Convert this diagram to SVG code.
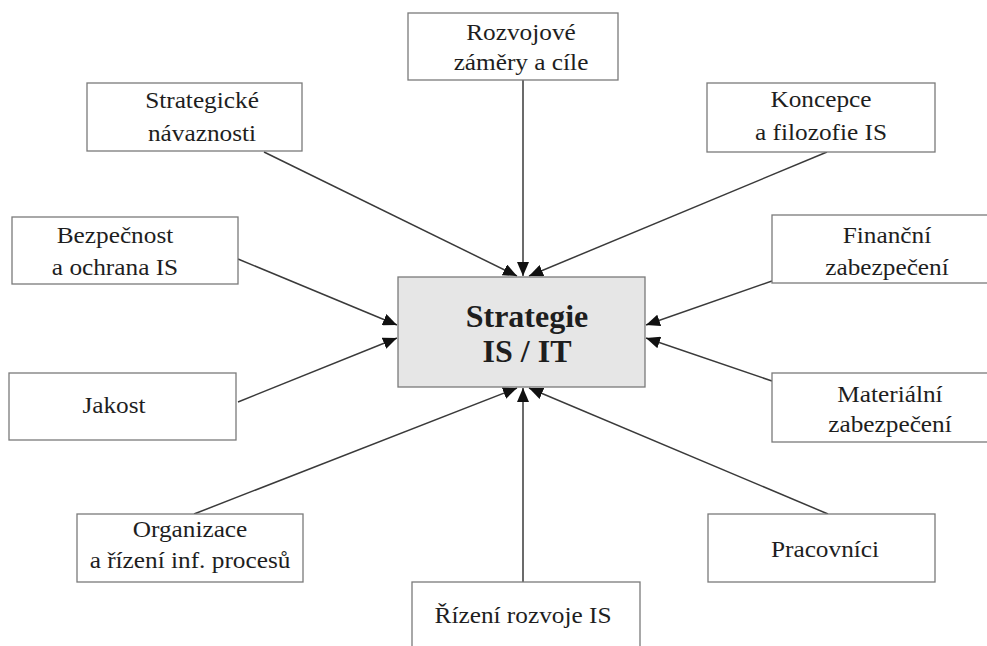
<svg xmlns="http://www.w3.org/2000/svg" width="987" height="646" viewBox="0 0 987 646">
<style>
.box{fill:#fff;stroke:#7a7a7a;stroke-width:1.3}
.center{fill:#e6e6e6;stroke:#7a7a7a;stroke-width:1.3}
.t{font-family:"Liberation Serif","Times New Roman",serif;font-size:23px;fill:#1e1e1e;text-anchor:middle}
.tb{font-family:"Liberation Serif","Times New Roman",serif;font-size:32px;font-weight:bold;fill:#1e1e1e;text-anchor:middle}
.c{stroke:#3a3a3a;stroke-width:1.5;fill:none;marker-end:url(#ah)}
</style>
<defs>
<marker id="ah" markerUnits="userSpaceOnUse" markerWidth="16" markerHeight="12" refX="14" refY="6" orient="auto">
<path d="M0,0 L14,6 L0,12 Z" fill="#111"/>
</marker>
</defs>
<rect width="987" height="646" fill="#fff"/>
<g id="connectors">
<line class="c" x1="523" y1="80" x2="523" y2="276"/>
<line class="c" x1="264" y1="152" x2="517" y2="276"/>
<line class="c" x1="827" y1="152" x2="529" y2="276"/>
<line class="c" x1="238" y1="259" x2="397" y2="325"/>
<line class="c" x1="238" y1="402" x2="397" y2="338"/>
<line class="c" x1="772" y1="281" x2="646" y2="325"/>
<line class="c" x1="772" y1="381" x2="646" y2="338"/>
<line class="c" x1="194" y1="514" x2="517" y2="388"/>
<line class="c" x1="523" y1="582" x2="523" y2="388"/>
<line class="c" x1="828" y1="514" x2="529" y2="388"/>
</g>
<g id="strategie">
<rect class="center" x="398" y="277" width="247" height="110"/>
<text class="tb" x="527" y="327">Strategie</text>
<text class="tb" x="527" y="362">IS / IT</text>
</g>
<g id="rozvojove">
<rect class="box" x="408" y="13" width="210" height="67"/>
<text class="t" transform="translate(521,40) scale(1.1,1)"><tspan x="0" y="0">Rozvojové</tspan><tspan x="0" y="30">záměry a cíle</tspan></text>
</g>
<g id="strategicke">
<rect class="box" x="87" y="83" width="215" height="68"/>
<text class="t" transform="translate(202,108) scale(1.1,1)"><tspan x="0" y="0">Strategické</tspan><tspan x="0" y="33">návaznosti</tspan></text>
</g>
<g id="koncepce">
<rect class="box" x="707" y="83" width="228" height="69"/>
<text class="t" transform="translate(821,107) scale(1.1,1)"><tspan x="0" y="0">Koncepce</tspan><tspan x="0" y="33">a filozofie IS</tspan></text>
</g>
<g id="bezpecnost">
<rect class="box" x="12" y="217" width="226" height="67"/>
<text class="t" transform="translate(115,243) scale(1.1,1)"><tspan x="0" y="0">Bezpečnost</tspan><tspan x="0" y="32">a ochrana IS</tspan></text>
</g>
<g id="jakost">
<rect class="box" x="9" y="373" width="227" height="67"/>
<text class="t" transform="translate(114,413) scale(1.1,1)">Jakost</text>
</g>
<g id="financni">
<rect class="box" x="772" y="215" width="230" height="68"/>
<text class="t" transform="translate(887,243) scale(1.1,1)"><tspan x="0" y="0">Finanční</tspan><tspan x="0" y="32">zabezpečení</tspan></text>
</g>
<g id="materialni">
<rect class="box" x="772" y="373" width="230" height="69"/>
<text class="t" transform="translate(890,402) scale(1.1,1)"><tspan x="0" y="0">Materiální</tspan><tspan x="0" y="30">zabezpečení</tspan></text>
</g>
<g id="organizace">
<rect class="box" x="77" y="514" width="226" height="68"/>
<text class="t" transform="translate(190,537) scale(1.1,1)"><tspan x="0" y="0">Organizace</tspan><tspan x="0" y="31">a řízení inf. procesů</tspan></text>
</g>
<g id="pracovnici">
<rect class="box" x="708" y="514" width="227" height="68"/>
<text class="t" transform="translate(825,557) scale(1.1,1)">Pracovníci</text>
</g>
<g id="rizeni">
<rect class="box" x="412" y="582" width="228" height="80"/>
<text class="t" transform="translate(523,623) scale(1.1,1)">Řízení rozvoje IS</text>
</g>
</svg>
